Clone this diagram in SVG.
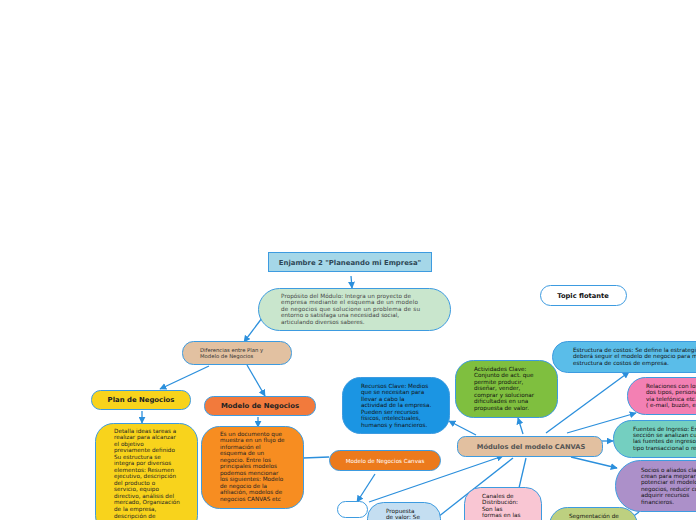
<svg xmlns="http://www.w3.org/2000/svg" width="696" height="520" viewBox="0 0 696 520">
<defs>
<marker id="ah" viewBox="0 0 10 10" refX="9" refY="5" markerWidth="7" markerHeight="7" orient="auto" markerUnits="userSpaceOnUse">
<path d="M0,0 L10,5 L0,10 z" fill="#2b8fdc"/>
</marker>
<style>
.n{stroke:#3d9be0;stroke-width:1}
.c{stroke:#2b8fdc;stroke-width:1.3;fill:none}
.a{marker-end:url(#ah)}
.t{font-family:"DejaVu Sans",Verdana,sans-serif;font-size:5.7px;fill:#222}
.h{font-family:"DejaVu Sans",Verdana,sans-serif;font-weight:bold;font-size:6.9px;fill:#222;text-anchor:middle}
</style>
</defs>
<rect width="696" height="520" fill="#ffffff"/>
<g id="connectors">
<line class="c a" x1="351" y1="276" x2="352" y2="288"/>
<line class="c a" x1="262" y1="318" x2="244" y2="342"/>
<line class="c a" x1="209" y1="366" x2="160" y2="389"/>
<line class="c a" x1="247" y1="365" x2="265" y2="396"/>
<line class="c a" x1="142" y1="411" x2="142" y2="423"/>
<line class="c a" x1="258" y1="417" x2="258" y2="427"/>
<line class="c" x1="303" y1="458" x2="329" y2="457"/>
<line class="c a" x1="375" y1="474" x2="357" y2="502"/>
<line class="c a" x1="369" y1="502" x2="503" y2="456"/>
<line class="c a" x1="476" y1="435" x2="449" y2="421"/>
<line class="c a" x1="523" y1="434" x2="518" y2="418"/>
<line class="c a" x1="546" y1="433" x2="629" y2="372"/>
<line class="c a" x1="567" y1="433" x2="636" y2="413"/>
<line class="c a" x1="602" y1="441" x2="613" y2="441"/>
<line class="c a" x1="571" y1="457" x2="617" y2="468"/>
<line class="c" x1="526" y1="458" x2="519" y2="488"/>
<line class="c" x1="513" y1="458" x2="438" y2="517"/>
<line class="c" x1="631" y1="518" x2="639" y2="512"/>
</g>
<g id="title">
<rect class="n" x="268.5" y="252.5" width="163" height="19" fill="#a5d7e8" stroke="#4aa0d8"/>
<text class="h" x="350" y="264.5" style="fill:#2e4756">Enjambre 2 "Planeando mi Empresa"</text>
</g>
<g id="proposito">
<rect class="n" x="258.5" y="288.5" width="192" height="42" rx="21" fill="#c9e6cd"/>
<text class="t" style="fill:#444">
<tspan x="281" y="297.5" textLength="130" lengthAdjust="spacing">Propósito del Módulo: Integra un proyecto de</tspan>
<tspan x="281" y="304" textLength="137" lengthAdjust="spacing">empresa mediante el esquema de un modelo</tspan>
<tspan x="281" y="310.5" textLength="139" lengthAdjust="spacing">de negocios que solucione un problema de su</tspan>
<tspan x="281" y="317">entorno o satisfaga una necesidad social,</tspan>
<tspan x="281" y="323.5">articulando diversos saberes.</tspan>
</text>
</g>
<g id="diferencias">
<rect class="n" x="182.5" y="341.5" width="109" height="23" rx="11" fill="#e2c1a1"/>
<text class="t" x="200" y="352" style="font-size:5.3px;fill:#333">
<tspan x="200">Diferencias entre Plan y</tspan>
<tspan x="200" dy="6">Modelo de Negocios</tspan>
</text>
</g>
<g id="plan">
<rect class="n" x="91.5" y="390.5" width="99" height="19" rx="9" fill="#f8d31c"/>
<text class="h" x="141" y="402.4">Plan de Negocios</text>
</g>
<g id="plan-detalle">
<rect class="n" x="95.5" y="423.5" width="102" height="110" rx="18" fill="#f8d31c"/>
<text class="t" x="114" y="432.5">
<tspan x="114">Detalla ideas tareas a</tspan>
<tspan x="114" dy="6.54">realizar para alcanzar</tspan>
<tspan x="114" dy="6.54">el objetivo</tspan>
<tspan x="114" dy="6.54">previamente definido</tspan>
<tspan x="114" dy="6.54">Su estructura se</tspan>
<tspan x="114" dy="6.54">integra por diversos</tspan>
<tspan x="114" dy="6.54">elementos: Resumen</tspan>
<tspan x="114" dy="6.54">ejecutivo, descripción</tspan>
<tspan x="114" dy="6.54">del producto o</tspan>
<tspan x="114" dy="6.54">servicio, equipo</tspan>
<tspan x="114" dy="6.54">directivo, análisis del</tspan>
<tspan x="114" dy="6.54">mercado, Organización</tspan>
<tspan x="114" dy="6.54">de la empresa,</tspan>
<tspan x="114" dy="6.54">descripción de</tspan>
</text>
</g>
<g id="modelo">
<rect class="n" x="204.5" y="396.5" width="111" height="19" rx="9" fill="#f27a3c"/>
<text class="h" x="260" y="408.4">Modelo de Negocios</text>
</g>
<g id="modelo-detalle">
<rect class="n" x="201.5" y="426.5" width="102" height="82" rx="18" fill="#f78d21"/>
<text class="t" x="220" y="435.5">
<tspan x="220">Es un documento que</tspan>
<tspan x="220" dy="6.55">muestra en un flujo de</tspan>
<tspan x="220" dy="6.55">información el</tspan>
<tspan x="220" dy="6.55">esquema de un</tspan>
<tspan x="220" dy="6.55">negocio. Entre los</tspan>
<tspan x="220" dy="6.55">principales modelos</tspan>
<tspan x="220" dy="6.55">podemos mencionar</tspan>
<tspan x="220" dy="6.55">los siguientes: Modelo</tspan>
<tspan x="220" dy="6.55">de negocio de la</tspan>
<tspan x="220" dy="6.55">afiliación, modelos de</tspan>
<tspan x="220" dy="6.55">negocios CANVAS etc</tspan>
</text>
</g>
<g id="canvas">
<rect class="n" x="329.5" y="450.5" width="111" height="20" rx="10" fill="#ec7a1c"/>
<text x="385" y="462.5" text-anchor="middle" font-family="'DejaVu Sans',sans-serif" font-size="5.6" fill="#ffffff">Modelo de Negocios Canvas</text>
</g>
<g id="vacio">
<rect class="n" x="337.5" y="501.5" width="30" height="16" rx="8" fill="#ffffff"/>
</g>
<g id="recursos">
<rect class="n" x="342.5" y="377.5" width="107" height="56" rx="18" fill="#1b95e3"/>
<text class="t" x="361" y="387.5" style="fill:#111">
<tspan x="361">Recursos Clave: Medios</tspan>
<tspan x="361" dy="6.5">que se necesitan para</tspan>
<tspan x="361" dy="6.5">llevar a cabo la</tspan>
<tspan x="361" dy="6.5">actividad de la empresa.</tspan>
<tspan x="361" dy="6.5">Pueden ser recursos</tspan>
<tspan x="361" dy="6.5">físicos, intelectuales,</tspan>
<tspan x="361" dy="6.5">humanos y financieros.</tspan>
</text>
</g>
<g id="actividades">
<rect class="n" x="455.5" y="360.5" width="102" height="57" rx="18" fill="#7fbf3f"/>
<text class="t" x="474" y="370.5" style="fill:#111">
<tspan x="474">Actividades Clave:</tspan>
<tspan x="474" dy="6.5">Conjunto de act. que</tspan>
<tspan x="474" dy="6.5">permite producir,</tspan>
<tspan x="474" dy="6.5">diseñar, vender,</tspan>
<tspan x="474" dy="6.5">comprar y solucionar</tspan>
<tspan x="474" dy="6.5">dificultades en una</tspan>
<tspan x="474" dy="6.5">propuesta de valor.</tspan>
</text>
</g>
<g id="modulos">
<rect class="n" x="457.5" y="436.5" width="145" height="20" rx="8" fill="#e2c0a0"/>
<text class="h" x="531" y="448.6" style="fill:#555;font-size:6.7px">Módulos del modelo CANVAS</text>
</g>
<g id="topic-flotante">
<rect class="n" x="540.5" y="285.5" width="86" height="20" rx="10" fill="#ffffff"/>
<text class="h" x="583" y="298" style="font-size:6.7px;fill:#111">Topic flotante</text>
</g>
<g id="estructura">
<rect class="n" x="552.5" y="341.5" width="170" height="31" rx="15" fill="#5abde9"/>
<text class="t" x="573" y="351.5" style="fill:#111">
<tspan x="573">Estructura de costos: Se define la estrategia</tspan>
<tspan x="573" dy="6.5">deberá seguir el modelo de negocio para ma</tspan>
<tspan x="573" dy="6.5">estructura de costos de empresa.</tspan>
</text>
</g>
<g id="relaciones">
<rect class="n" x="627.5" y="377.5" width="100" height="37" rx="18" fill="#f380b3"/>
<text class="t" x="646" y="388" style="fill:#111">
<tspan x="646">Relaciones con los</tspan>
<tspan x="646" dy="6.4">dos tipos, persona</tspan>
<tspan x="646" dy="6.4">vía telefónica etc.</tspan>
<tspan x="646" dy="6.4">( e-mail, buzón, e</tspan>
</text>
</g>
<g id="fuentes">
<rect class="n" x="613.5" y="420.5" width="110" height="37" rx="18" fill="#74cfc0"/>
<text class="t" x="633" y="430.5" style="fill:#111">
<tspan x="633">Fuentes de Ingreso: En</tspan>
<tspan x="633" dy="6.4">sección se analizan cuá</tspan>
<tspan x="633" dy="6.4">las fuentes de ingreso,</tspan>
<tspan x="633" dy="6.4">tipo transaccional o rec</tspan>
</text>
</g>
<g id="socios">
<rect class="n" x="615.5" y="460.5" width="110" height="51" rx="25" fill="#ac90c9"/>
<text class="t" x="641" y="471.5" style="fill:#111">
<tspan x="641">Socios o aliados clav</tspan>
<tspan x="641" dy="6.4">crean para mejorar</tspan>
<tspan x="641" dy="6.4">potenciar el modelo</tspan>
<tspan x="641" dy="6.4">negocios, reducir co</tspan>
<tspan x="641" dy="6.4">adquirir recursos</tspan>
<tspan x="641" dy="6.4">financieros.</tspan>
</text>
</g>
<g id="segmentacion">
<rect class="n" x="549.5" y="507.5" width="88" height="40" rx="18" fill="#bdd080"/>
<text class="t" x="569" y="517.5" style="fill:#111">Segmentación de</text>
</g>
<g id="canales">
<rect class="n" x="464.5" y="487.5" width="77" height="50" rx="16" fill="#f9c6d3"/>
<text class="t" x="482" y="497.5" style="fill:#111">
<tspan x="482">Canales de</tspan>
<tspan x="482" dy="6.5">Distribución:</tspan>
<tspan x="482" dy="6.5">Son las</tspan>
<tspan x="482" dy="6.5">formas en las</tspan>
</text>
</g>
<g id="propuesta">
<rect class="n" x="367.5" y="502.5" width="73" height="40" rx="16" fill="#c4def1"/>
<text class="t" x="386" y="512.5" style="fill:#111">
<tspan x="386">Propuesta</tspan>
<tspan x="386" dy="6.5">de valor: Se</tspan>
</text>
</g>
</svg>
